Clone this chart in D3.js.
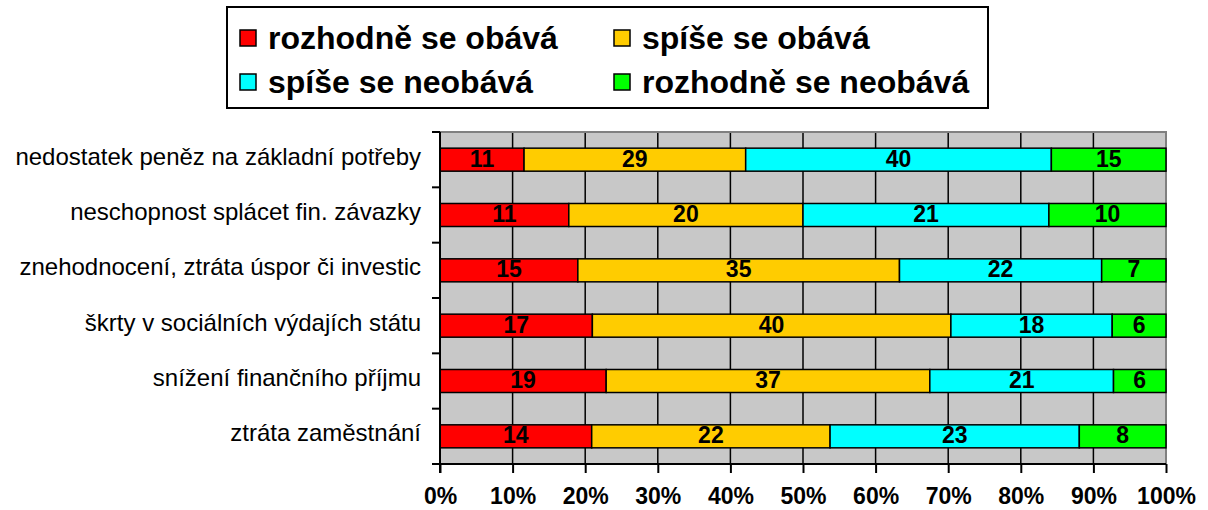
<html>
  <head>
    <script src="https://d3js.org/d3.v7.min.js"></script>
    <style>
      body { margin: 0; background: #fff; }
      text { font-family: Arial, "Liberation Sans", sans-serif; }
    </style>
  </head>
  <body>
    <svg width="1208" height="510"></svg>
    <script>
    // categories, top to bottom
    var categories = [
      "nedostatek peněz na základní potřeby",
      "neschopnost splácet fin. závazky",
      "znehodnocení, ztráta úspor či investic",
      "škrty v sociálních výdajích státu",
      "snížení finančního příjmu",
      "ztráta zaměstnání"
    ];
    var seriesNames = ["rozhodně se obává", "spíše se obává", "spíše se neobává", "rozhodně se neobává"];
    var seriesColors = ["#ff0000", "#ffcc00", "#00ffff", "#00ff00"];
    var rozhodneObava = [11, 11, 15, 17, 19, 14];
    var spiseObava = [29, 20, 35, 40, 37, 22];
    var spiseNeobava = [40, 21, 22, 18, 21, 23];
    var rozhodneNeobava = [15, 10, 7, 6, 6, 8];
    var xTicks = [0, 0.1, 0.2, 0.3, 0.4, 0.5, 0.6, 0.7, 0.8, 0.9, 1];

    var svg = d3.select("svg");
    var plotLeft = 440, plotRight = 1166, plotTop = 132, plotBottom = 464;

    var rows = categories.map(function(c, i) {
      var r = {cat: c};
      r[seriesNames[0]] = rozhodneObava[i];
      r[seriesNames[1]] = spiseObava[i];
      r[seriesNames[2]] = spiseNeobava[i];
      r[seriesNames[3]] = rozhodneNeobava[i];
      return r;
    });
    var stacked = d3.stack().keys(seriesNames).offset(d3.stackOffsetExpand)(rows);

    var x = d3.scaleLinear().domain([0, 1]).range([plotLeft, plotRight]);
    var y = d3.scaleBand().domain(categories).range([plotTop, plotBottom])
      .paddingInner(0.584).paddingOuter(0.292);
    var step = y.step();

    // plot background
    svg.append("rect")
      .attr("x", plotLeft).attr("y", plotTop)
      .attr("width", plotRight - plotLeft).attr("height", plotBottom - plotTop)
      .attr("fill", "#c8c8c8");

    // vertical gridlines
    svg.append("g").selectAll("line")
      .data(xTicks.slice(1, -1))
      .enter().append("line")
        .attr("x1", function(d) { return x(d); }).attr("x2", function(d) { return x(d); })
        .attr("y1", plotTop).attr("y2", plotBottom)
        .attr("stroke", "#000").attr("stroke-width", 1.5);

    // gray frame top and right
    svg.append("path")
      .attr("d", "M" + plotLeft + "," + plotTop + "H" + plotRight + "V" + plotBottom)
      .attr("fill", "none").attr("stroke", "#808080").attr("stroke-width", 2);

    // bars
    var layer = svg.append("g").selectAll("g")
      .data(stacked)
      .enter().append("g")
        .attr("fill", function(d, i) { return seriesColors[i]; });
    layer.selectAll("rect")
      .data(function(d) { return d; })
      .enter().append("rect")
        .attr("x", function(d) { return x(d[0]); })
        .attr("y", function(d) { return y(d.data.cat); })
        .attr("width", function(d) { return x(d[1]) - x(d[0]); })
        .attr("height", y.bandwidth())
        .attr("stroke", "#000").attr("stroke-width", 1.5);

    // value labels
    stacked.forEach(function(s) {
      svg.append("g").selectAll("text")
        .data(s)
        .enter().append("text")
          .attr("x", function(d) { return (x(d[0]) + x(d[1])) / 2; })
          .attr("y", function(d) { return y(d.data.cat) + y.bandwidth() / 2 + 7; })
          .attr("text-anchor", "middle")
          .attr("font-size", "23px").attr("font-weight", "bold")
          .text(function(d) { return d.data[s.key]; });
    });

    // y axis: line, boundary ticks, labels
    svg.append("line")
      .attr("x1", plotLeft).attr("x2", plotLeft).attr("y1", plotTop).attr("y2", plotBottom + 9)
      .attr("stroke", "#000").attr("stroke-width", 2);
    svg.append("g").selectAll("line")
      .data(d3.range(categories.length + 1))
      .enter().append("line")
        .attr("x1", plotLeft - 8).attr("x2", plotLeft)
        .attr("y1", function(i) { return plotTop + i * step; })
        .attr("y2", function(i) { return plotTop + i * step; })
        .attr("stroke", "#000").attr("stroke-width", 2);
    svg.append("g").selectAll("text")
      .data(categories)
      .enter().append("text")
        .attr("x", 421)
        .attr("y", function(d) { return y(d) + y.bandwidth() / 2 + 5; })
        .attr("text-anchor", "end")
        .attr("font-size", "24px")
        .text(function(d) { return d; });

    // x axis
    var xAxis = svg.append("g")
      .attr("transform", "translate(0," + plotBottom + ")")
      .call(d3.axisBottom(x).tickValues(xTicks).tickSize(9).tickFormat(d3.format(".0%")));
    xAxis.select(".domain").remove();
    xAxis.selectAll(".tick line").attr("stroke", "#000").attr("stroke-width", 2);
    xAxis.selectAll(".tick text")
      .attr("y", 40).attr("dy", null)
      .attr("fill", "#000")
      .attr("font-size", "23px").attr("font-weight", "bold")
      .attr("font-family", "Arial, 'Liberation Sans', sans-serif");
    svg.append("line")
      .attr("x1", plotLeft - 8).attr("x2", plotRight).attr("y1", plotBottom).attr("y2", plotBottom)
      .attr("stroke", "#000").attr("stroke-width", 2);

    // legend
    var legend = svg.append("g");
    legend.append("rect")
      .attr("x", 227).attr("y", 7).attr("width", 761).attr("height", 101)
      .attr("fill", "#fff").attr("stroke", "#000").attr("stroke-width", 2);
    var items = legend.selectAll("g.item")
      .data(seriesNames)
      .enter().append("g")
        .attr("class", "item")
        .attr("transform", function(d, i) {
          return "translate(" + (i % 2 ? 614 : 240) + "," + (i < 2 ? 38 : 82) + ")";
        });
    items.append("rect")
      .attr("x", 0).attr("y", -8).attr("width", 16).attr("height", 16)
      .attr("fill", function(d, i) { return seriesColors[i]; })
      .attr("stroke", "#000").attr("stroke-width", 1.5);
    items.append("text")
      .attr("x", 28).attr("y", 11)
      .attr("font-size", "32px").attr("font-weight", "bold")
      .text(function(d) { return d; });
    </script>
  </body>
</html>
